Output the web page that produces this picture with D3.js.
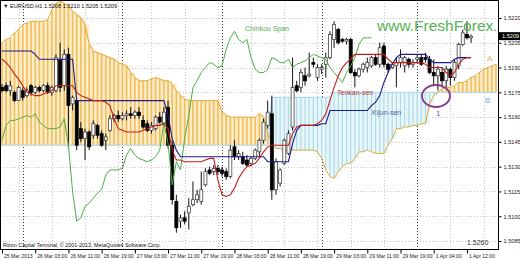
<!DOCTYPE html>
<html><head><meta charset="utf-8">
<script src="https://cdn.jsdelivr.net/npm/d3@7"></script>
<style>
body{margin:0;background:#fff;}
svg{display:block;}
text{font-family:"Liberation Sans",Arial,"DejaVu Sans",sans-serif;}
</style>
</head><body>
<svg id="c" width="520" height="260"></svg>
<script>
// ---------------- DATA ----------------
const symbolTitle = "EURUSD,H1";
const timeTickBars = [0,8,16,24,32,40,48,56,64,72,80,88,96,104,112];
const timeTickLabels = ["25 Mar 2013","26 Mar 03:00","26 Mar 11:00","26 Mar 19:00","27 Mar 03:00","27 Mar 11:00","27 Mar 19:00","28 Mar 03:00","28 Mar 11:00","28 Mar 19:00","29 Mar 03:00","29 Mar 11:00","29 Mar 19:00","1 Apr 04:00","1 Apr 12:00"];
const gridBars = [4,12,20,28,36,44,52,60,68,76,84,92,100,108,116];
const daySeparatorBars = [5,29,53,77,100];
const priceTicks = [1.5220,1.5205,1.5190,1.5175,1.5160,1.5145,1.5130,1.5115,1.5100,1.5085];

const open = [
1.5178,1.5179,1.5176,1.5175,1.5170,1.5176,1.5173,1.5179,1.5175,1.5178,
1.5176,1.5179,1.5175,1.5176,1.5195,1.5179,1.5198,1.5168,1.5170,1.5153,
1.5147,1.5151,1.5149,1.5155,1.5150,1.5146,1.5152,1.5159,1.5161,1.5159,
1.5161,1.5162,1.5161,1.5163,1.5158,1.5156,1.5152,1.5153,1.5160,1.5156,
1.5166,1.5143,1.5109,1.5097,1.5099,1.5102,1.5107,1.5110,1.5109,1.5119,
1.5128,1.5127,1.5129,1.5128,1.5127,1.5124,1.5142,1.5136,1.5136,1.5134,
1.5132,1.5135,1.5139,1.5146,1.5155,1.5162,1.5116,1.5120,1.5132,1.5138,
1.5154,1.5179,1.5178,1.5185,1.5185,1.5193,1.5184,1.5189,1.5192,1.5196,
1.5207,1.5213,1.5207,1.5206,1.5207,1.5187,1.5185,1.5189,1.5190,1.5191,
1.5196,1.5192,1.5203,1.5192,1.5190,1.5191,1.5193,1.5191,1.5195,1.5192,
1.5195,1.5196,1.5196,1.5195,1.5187,1.5185,1.5187,1.5182,1.5189,1.5184,
1.5191,1.5204,1.5210,1.5208];
const high = [
1.5180,1.5181,1.5182,1.5176,1.5179,1.5178,1.5178,1.5180,1.5179,1.5179,
1.5180,1.5181,1.5179,1.5198,1.5205,1.5201,1.5202,1.5173,1.5170,1.5157,
1.5153,1.5152,1.5158,1.5156,1.5152,1.5150,1.5161,1.5162,1.5164,1.5163,
1.5164,1.5166,1.5164,1.5166,1.5161,1.5158,1.5157,1.5161,1.5163,1.5166,
1.5170,1.5146,1.5113,1.5101,1.5103,1.5111,1.5121,1.5116,1.5127,1.5129,
1.5130,1.5131,1.5131,1.5130,1.5129,1.5143,1.5146,1.5140,1.5139,1.5137,
1.5136,1.5141,1.5147,1.5159,1.5170,1.5173,1.5135,1.5129,1.5147,1.5152,
1.5196,1.5182,1.5189,1.5190,1.5199,1.5196,1.5192,1.5192,1.5199,1.5212,
1.5218,1.5214,1.5208,1.5208,1.5208,1.5189,1.5190,1.5193,1.5196,1.5197,
1.5198,1.5205,1.5205,1.5193,1.5193,1.5196,1.5201,1.5197,1.5196,1.5195,
1.5198,1.5198,1.5199,1.5197,1.5195,1.5191,1.5190,1.5191,1.5190,1.5195,
1.5205,1.5213,1.5218,1.5210];
const low = [
1.5175,1.5175,1.5173,1.5169,1.5170,1.5170,1.5172,1.5173,1.5174,1.5175,
1.5175,1.5174,1.5173,1.5175,1.5175,1.5176,1.5141,1.5164,1.5140,1.5145,
1.5134,1.5140,1.5147,1.5147,1.5142,1.5140,1.5151,1.5157,1.5157,1.5158,
1.5158,1.5159,1.5159,1.5159,1.5153,1.5151,1.5150,1.5152,1.5156,1.5155,
1.5141,1.5107,1.5090,1.5093,1.5095,1.5092,1.5106,1.5108,1.5107,1.5118,
1.5125,1.5125,1.5125,1.5124,1.5122,1.5123,1.5134,1.5134,1.5131,1.5130,
1.5130,1.5134,1.5136,1.5144,1.5153,1.5110,1.5113,1.5118,1.5131,1.5137,
1.5152,1.5175,1.5175,1.5179,1.5184,1.5190,1.5182,1.5186,1.5184,1.5195,
1.5202,1.5204,1.5205,1.5204,1.5186,1.5178,1.5184,1.5187,1.5187,1.5190,
1.5191,1.5190,1.5190,1.5187,1.5189,1.5178,1.5190,1.5187,1.5190,1.5190,
1.5193,1.5191,1.5193,1.5186,1.5179,1.5176,1.5178,1.5178,1.5179,1.5182,
1.5189,1.5203,1.5207,1.5205];
const close = [
1.5176,1.5176,1.5179,1.5170,1.5178,1.5172,1.5176,1.5175,1.5178,1.5176,
1.5179,1.5175,1.5178,1.5196,1.5178,1.5198,1.5167,1.5172,1.5143,1.5147,
1.5151,1.5142,1.5156,1.5149,1.5143,1.5148,1.5159,1.5161,1.5159,1.5161,
1.5162,1.5161,1.5163,1.5161,1.5154,1.5152,1.5155,1.5160,1.5157,1.5163,
1.5143,1.5110,1.5093,1.5099,1.5097,1.5106,1.5110,1.5113,1.5116,1.5127,
1.5126,1.5129,1.5127,1.5126,1.5124,1.5140,1.5136,1.5138,1.5132,1.5131,
1.5135,1.5140,1.5146,1.5157,1.5163,1.5116,1.5133,1.5128,1.5146,1.5150,
1.5178,1.5176,1.5187,1.5182,1.5186,1.5192,1.5190,1.5190,1.5196,1.5210,
1.5216,1.5205,1.5206,1.5207,1.5187,1.5185,1.5189,1.5192,1.5193,1.5196,
1.5192,1.5202,1.5192,1.5189,1.5192,1.5193,1.5196,1.5196,1.5192,1.5193,
1.5196,1.5192,1.5195,1.5187,1.5185,1.5189,1.5182,1.5189,1.5184,1.5193,
1.5204,1.5211,1.5208,1.5209];

const tenkan = [
1.5195,1.5193,1.5190,1.5186,1.5183,1.5179,1.5175,1.5174,1.5173,1.5173,
1.5174,1.5175,1.5176,1.5179,1.5179,1.5179,1.5179,1.5179,1.5175,1.5173,
1.5172,1.5171,1.5170,1.5170,1.5170,1.5169,1.5167,1.5159,1.5153,1.5152,
1.5151,1.5151,1.5151,1.5151,1.5152,1.5153,1.5154,1.5155,1.5155,1.5156,
1.5153,1.5140,1.5134,1.5134,1.5133,1.5133,1.5133,1.5133,1.5133,1.5134,
1.5135,1.5135,1.5122,1.5113,1.5112,1.5113,1.5117,1.5123,1.5127,1.5130,
1.5131,1.5132,1.5135,1.5139,1.5142,1.5143,1.5143,1.5143,1.5143,1.5143,
1.5150,1.5154,1.5155,1.5155,1.5155,1.5155,1.5156,1.5158,1.5162,1.5170,
1.5178,1.5185,1.5190,1.5193,1.5195,1.5198,1.5198,1.5198,1.5198,1.5198,
1.5198,1.5198,1.5198,1.5195,1.5193,1.5193,1.5193,1.5193,1.5193,1.5193,
1.5193,1.5193,1.5192,1.5190,1.5190,1.5190,1.5190,1.5187,1.5185,1.5187,
1.5192,1.5195,1.5196,1.5196];
const kijun = [
1.5200,1.5200,1.5200,1.5200,1.5200,1.5200,1.5200,1.5200,1.5198,1.5195,
1.5195,1.5195,1.5195,1.5195,1.5195,1.5195,1.5195,1.5195,1.5170,1.5170,
1.5170,1.5170,1.5170,1.5170,1.5170,1.5170,1.5170,1.5170,1.5170,1.5170,
1.5170,1.5170,1.5170,1.5170,1.5170,1.5170,1.5170,1.5170,1.5170,1.5170,
1.5161,1.5147,1.5140,1.5136,1.5136,1.5136,1.5136,1.5136,1.5136,1.5136,
1.5136,1.5136,1.5136,1.5136,1.5136,1.5136,1.5136,1.5136,1.5136,1.5136,
1.5136,1.5136,1.5136,1.5136,1.5133,1.5133,1.5133,1.5133,1.5133,1.5133,
1.5144,1.5152,1.5155,1.5155,1.5155,1.5155,1.5155,1.5156,1.5156,1.5164,
1.5164,1.5164,1.5164,1.5164,1.5164,1.5164,1.5164,1.5164,1.5164,1.5167,
1.5169,1.5173,1.5181,1.5187,1.5192,1.5196,1.5198,1.5198,1.5198,1.5198,
1.5198,1.5198,1.5198,1.5195,1.5193,1.5193,1.5193,1.5193,1.5193,1.5195,
1.5196,1.5196,1.5196,1.5196];
const chikou = [
1.5146,1.5155,1.5158,1.5158,1.5159,1.5160,1.5161,1.5160,1.5162,1.5157,
1.5155,1.5153,1.5153,1.5153,1.5154,1.5159,1.5143,1.5115,1.5097,1.5099,
1.5106,1.5108,1.5111,1.5114,1.5116,1.5125,1.5128,1.5128,1.5128,1.5129,
1.5137,1.5141,1.5137,1.5135,1.5134,1.5133,1.5134,1.5136,1.5140,1.5157,
1.5144,1.5119,1.5133,1.5128,1.5147,1.5161,1.5178,1.5182,1.5187,1.5190,
1.5193,1.5192,1.5190,1.5191,1.5201,1.5208,1.5212,1.5207,1.5205,1.5207,
1.5196,1.5189,1.5187,1.5187,1.5189,1.5196,1.5195,1.5193,1.5193,1.5195,
1.5190,1.5192,1.5193,1.5194,1.5196,1.5198,1.5197,1.5196,1.5195,1.5190,
1.5187,1.5184,1.5181,1.5187,1.5191,1.5196,1.5204,1.5208,1.5208,1.5208];
const senkouA = [
1.5205,1.5207,1.5208,1.5211,1.5213,1.5216,1.5217,1.5218,1.5218,1.5218,
1.5218,1.5219,1.5225,1.5229,1.5230,1.5229,1.5227,1.5224,1.5222,1.5220,
1.5216,1.5204,1.5200,1.5199,1.5198,1.5197,1.5196,1.5195,1.5193,1.5192,
1.5191,1.5187,1.5184,1.5182,1.5182,1.5182,1.5183,1.5184,1.5183,1.5182,
1.5182,1.5180,1.5176,1.5173,1.5171,1.5170,1.5170,1.5170,1.5170,1.5170,
1.5170,1.5170,1.5170,1.5163,1.5161,1.5160,1.5160,1.5160,1.5160,1.5160,
1.5160,1.5160,1.5162,1.5160,1.5150,1.5145,1.5141,1.5141,1.5140,1.5140,
1.5140,1.5140,1.5140,1.5140,1.5140,1.5140,1.5139,1.5135,1.5128,1.5124,
1.5123,1.5127,1.5130,1.5132,1.5132,1.5135,1.5139,1.5139,1.5140,1.5139,
1.5138,1.5138,1.5138,1.5143,1.5147,1.5153,1.5153,1.5154,1.5154,1.5155,
1.5155,1.5156,1.5156,1.5168,1.5173,1.5175,1.5177,1.5178,1.5178,1.5179,
1.5181,1.5181,1.5182,1.5184,1.5185,1.5187,1.5189,1.5190,1.5191,1.5192];
const senkouB = [
1.5143,1.5143,1.5143,1.5143,1.5143,1.5143,1.5143,1.5143,1.5143,1.5143,
1.5143,1.5143,1.5143,1.5143,1.5143,1.5143,1.5143,1.5143,1.5143,1.5143,
1.5143,1.5143,1.5143,1.5143,1.5143,1.5143,1.5143,1.5143,1.5143,1.5143,
1.5143,1.5143,1.5143,1.5143,1.5143,1.5143,1.5143,1.5143,1.5143,1.5143,
1.5143,1.5143,1.5143,1.5143,1.5143,1.5143,1.5143,1.5143,1.5143,1.5143,
1.5143,1.5143,1.5143,1.5143,1.5143,1.5143,1.5143,1.5143,1.5143,1.5143,
1.5143,1.5143,1.5143,1.5143,1.5143,1.5172,1.5172,1.5172,1.5172,1.5172,
1.5172,1.5172,1.5172,1.5172,1.5172,1.5172,1.5172,1.5172,1.5172,1.5172,
1.5175,1.5175,1.5175,1.5175,1.5175,1.5175,1.5175,1.5175,1.5175,1.5175,
1.5175,1.5175,1.5175,1.5175,1.5175,1.5175,1.5175,1.5175,1.5175,1.5175,
1.5175,1.5175,1.5175,1.5175,1.5175,1.5175,1.5175,1.5175,1.5175,1.5175,
1.5175,1.5175,1.5175,1.5175,1.5175,1.5175,1.5175,1.5175,1.5175,1.5175];
const bottomNote = "1.5260";

// ---------------- DRAW ----------------
const W = 520, H = 260, plotR = 498, plotB = 249;
const svg = d3.select("#c");
const x = d3.scaleLinear().domain([0, 119]).range([2, 496]);
const y = d3.scaleLinear().domain([1.5085, 1.5220]).range([241, 18]);

svg.append("rect").attr("width", W).attr("height", H).attr("fill", "#fff");
svg.append("defs").append("clipPath").attr("id", "clip")
  .append("rect").attr("x", 0).attr("y", 0).attr("width", plotR).attr("height", plotB);
const g = svg.append("g").attr("clip-path", "url(#clip)");

// grid
g.selectAll(".hg").data(priceTicks).join("line")
  .attr("x1", 0).attr("x2", plotR)
  .attr("y1", d => Math.round(y(d)) + 0.5).attr("y2", d => Math.round(y(d)) + 0.5)
  .attr("stroke", "#c4c4c4").attr("stroke-dasharray", "1,2");
g.selectAll(".vg").data(gridBars).join("line")
  .attr("x1", d => Math.round(x(d)) + 0.5).attr("x2", d => Math.round(x(d)) + 0.5)
  .attr("y1", 0).attr("y2", plotB)
  .attr("stroke", "#c4c4c4").attr("stroke-dasharray", "1,2");
g.selectAll(".ds").data(daySeparatorBars).join("line")
  .attr("x1", d => Math.round(x(d)) + 0.5).attr("x2", d => Math.round(x(d)) + 0.5)
  .attr("y1", 0).attr("y2", plotB)
  .attr("stroke", "#333").attr("stroke-dasharray", "1,2");

// cloud: faint tint + hatch
const cloudIdx = d3.range(senkouA.length);
const up = i => senkouA[i] >= senkouB[i];
g.selectAll(".tint").data(cloudIdx.slice(0, -1)).join("rect")
  .attr("x", i => x(i)).attr("width", x(1) - x(0) + 0.3)
  .attr("y", i => y(Math.max(senkouA[i], senkouB[i])))
  .attr("height", i => Math.abs(y(senkouA[i]) - y(senkouB[i])))
  .attr("fill", i => up(i) ? "#fbeccb" : "#e9f6f9");
g.selectAll(".hatch").data(cloudIdx).join("line")
  .attr("x1", i => x(i)).attr("x2", i => x(i))
  .attr("y1", i => y(senkouA[i])).attr("y2", i => y(senkouB[i]))
  .attr("stroke", i => up(i) ? "#f1be58" : "#acdce8")
  .attr("stroke-width", i => up(i) ? 1.6 : 1.2);

const lineGen = arr => d3.line().defined(d => d != null).x((d, i) => x(i)).y(d => y(d))(arr);
g.append("path").attr("d", lineGen(senkouB)).attr("fill", "none").attr("stroke", "#a6d6e4").attr("stroke-width", 1);
g.append("path").attr("d", lineGen(senkouA)).attr("fill", "none").attr("stroke", "#e2aa38").attr("stroke-width", 1);

// candles
const cIdx = d3.range(open.length);
g.selectAll(".wick").data(cIdx).join("line")
  .attr("x1", i => x(i)).attr("x2", i => x(i))
  .attr("y1", i => y(high[i])).attr("y2", i => y(low[i]))
  .attr("stroke", "#111").attr("stroke-width", 1);
g.selectAll(".body").data(cIdx).join("rect")
  .attr("x", i => x(i) - 1.5).attr("width", 3)
  .attr("y", i => y(Math.max(open[i], close[i])))
  .attr("height", i => Math.max(1, Math.abs(y(open[i]) - y(close[i]))))
  .attr("fill", i => close[i] >= open[i] ? "#fff" : "#000")
  .attr("stroke", i => close[i] >= open[i] ? "#444" : "#000")
  .attr("stroke-width", 0.8);

// indicator lines
g.append("path").attr("d", lineGen(chikou)).attr("fill", "none").attr("stroke", "#4aae4a").attr("stroke-width", 1);
g.append("path").attr("d", lineGen(kijun)).attr("fill", "none").attr("stroke", "#1c1c88").attr("stroke-width", 1.1);
g.append("path").attr("d", lineGen(tenkan)).attr("fill", "none").attr("stroke", "#c41c1c").attr("stroke-width", 1.1);

// annotations
svg.append("text").attr("x", 377).attr("y", 31).attr("font-size", 15.5).attr("fill", "#55b455").text("www.FreshForex.");
svg.append("text").attr("x", 245).attr("y", 31).attr("font-size", 7).attr("fill", "#4caf50").text("Chinkou Span");
svg.append("text").attr("x", 337).attr("y", 94.5).attr("font-size", 7).attr("fill", "#b53a3a").text("Tenkan-sen");
svg.append("text").attr("x", 372).attr("y", 115).attr("font-size", 7).attr("fill", "#4866a0").text("Kijun-sen");
svg.append("text").attr("x", 487).attr("y", 61).attr("font-size", 8).attr("fill", "#e8b062").text("A");
svg.append("text").attr("x", 485).attr("y", 103).attr("font-size", 8).attr("fill", "#6cb4d4").text("B");
svg.append("text").attr("x", 436).attr("y", 116).attr("font-size", 8).attr("fill", "#7a4a8a").text("1");
svg.append("ellipse").attr("cx", 436).attr("cy", 96).attr("rx", 14).attr("ry", 11)
  .attr("fill", "none").attr("stroke", "#8b3a8b").attr("stroke-width", 1.8);

// title & copyright
const last = open.length - 1;
svg.append("text").attr("x", 3).attr("y", 8).attr("font-size", 5.6).attr("fill", "#111")
  .text("▼ " + symbolTitle + "  " + [open[last], high[last], low[last], close[last]].map(v => v.toFixed(4)).join(" "));
svg.append("text").attr("x", 3).attr("y", 247).attr("font-size", 5.4).attr("fill", "#111")
  .text("Rizon Capital Terminal, © 2001-2013, MetaQuotes Software Corp.");
svg.append("text").attr("x", 467).attr("y", 245).attr("font-size", 7).attr("fill", "#333").text(bottomNote);

// frame
svg.append("rect").attr("x", 0.5).attr("y", 0.5).attr("width", plotR).attr("height", plotB)
  .attr("fill", "none").attr("stroke", "#000");

// price axis
const ya = svg.append("g").attr("transform", `translate(${plotR + 0.5},0)`)
  .call(d3.axisRight(y).tickValues(priceTicks).tickSize(3).tickPadding(2).tickFormat(d => d.toFixed(4)));
ya.select(".domain").remove();
ya.selectAll("text").attr("font-size", 5.6).attr("fill", "#222").style("font-family", '"Liberation Sans",Arial,sans-serif');
ya.selectAll("line").attr("stroke", "#000");

// current price marker
const cy = y(close[last]);
svg.append("rect").attr("x", plotR + 1).attr("y", cy - 4).attr("width", 21).attr("height", 8).attr("fill", "#000");
svg.append("text").attr("x", plotR + 4).attr("y", cy + 2).attr("font-size", 5.6).attr("fill", "#fff").text(close[last].toFixed(4));

// time axis
const xa = svg.append("g").attr("transform", `translate(0,${plotB + 0.5})`)
  .call(d3.axisBottom(x).tickValues(timeTickBars).tickSize(4).tickPadding(1).tickFormat((d, i) => timeTickLabels[i]));
xa.select(".domain").remove();
xa.selectAll("text").attr("text-anchor", "start").attr("dx", 1.5).attr("font-size", 5.1).attr("fill", "#222")
  .style("font-family", '"Liberation Sans",Arial,sans-serif');
xa.selectAll("line").attr("stroke", "#000");
</script>
</body></html>
